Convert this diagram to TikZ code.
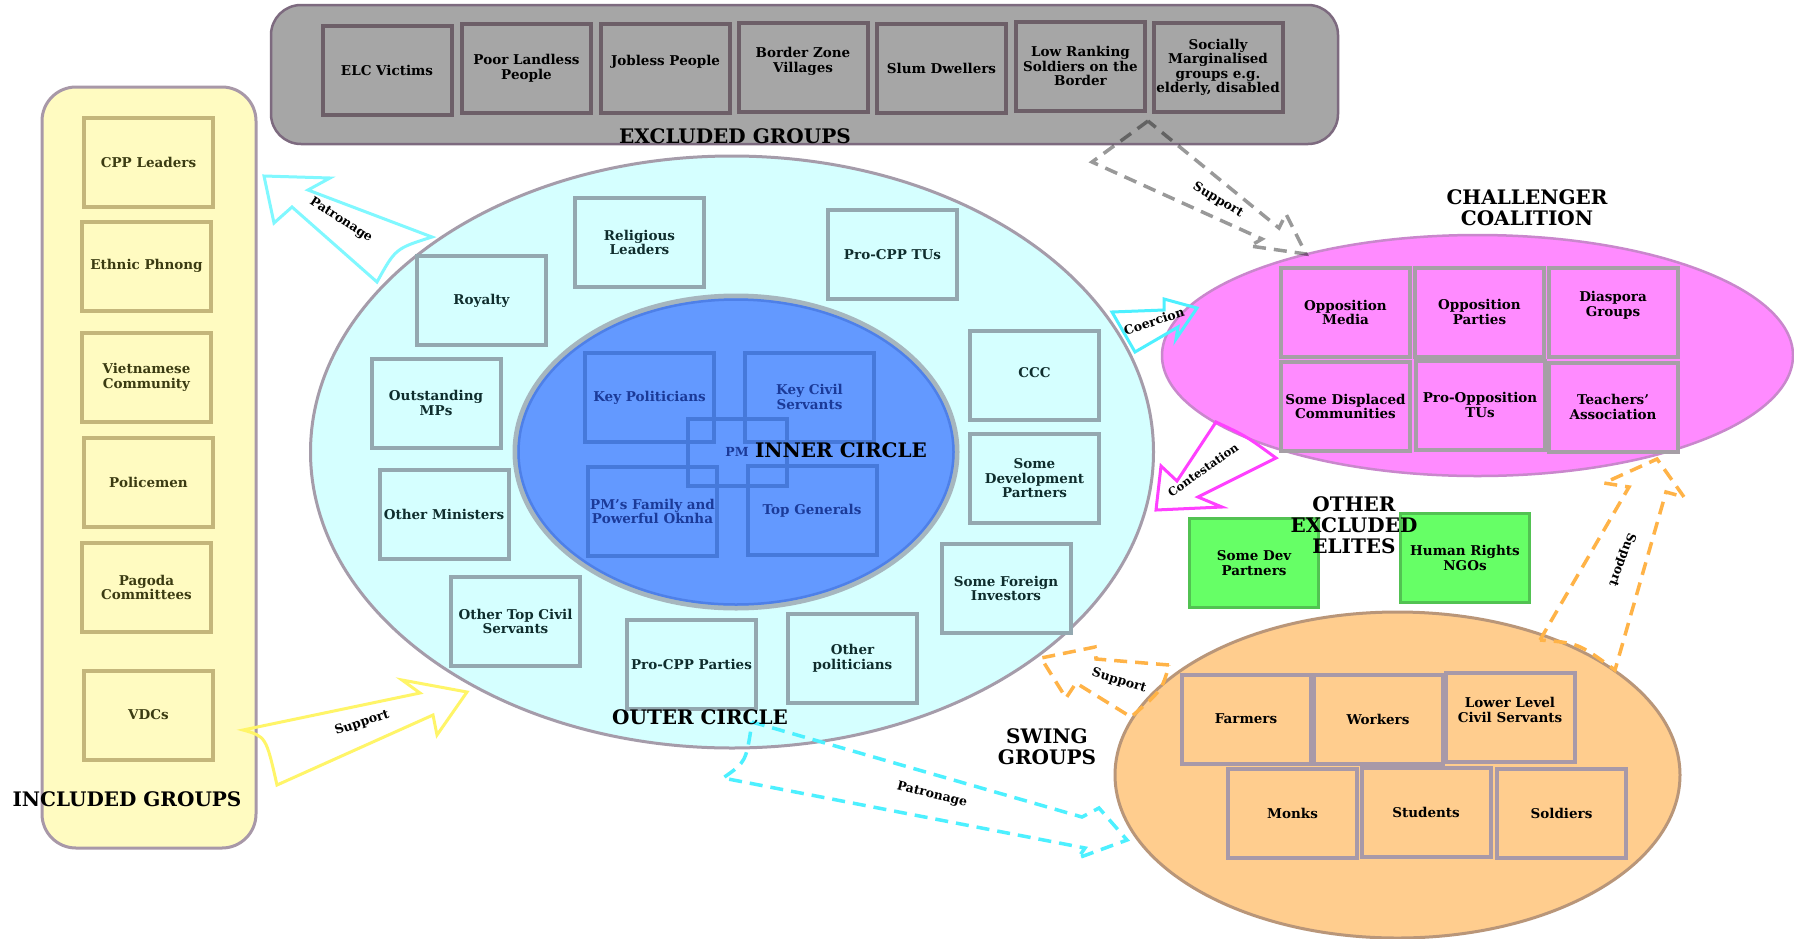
\documentclass[tikz,border=0pt]{standalone}
\usepackage{fontspec}
\setmainfont{DejaVu Serif}
\usetikzlibrary{shapes.geometric}

% palette
\definecolor{exFill}{HTML}{A6A6A6}
\definecolor{exLine}{HTML}{7D6A7F}
\definecolor{exBoxLine}{HTML}{6D5F68}
\definecolor{inFill}{HTML}{FFFBC1}
\definecolor{inLine}{HTML}{A898A8}
\definecolor{inBoxLine}{HTML}{C4B67B}
\definecolor{inText}{HTML}{3B3B12}
\definecolor{ocFill}{HTML}{D5FFFF}
\definecolor{ocLine}{HTML}{A59CAA}
\definecolor{ocBoxLine}{HTML}{94A8B0}
\definecolor{ocText}{HTML}{0F2D2D}
\definecolor{icFill}{HTML}{6399FF}
\definecolor{icRing}{HTML}{4E80E8}
\definecolor{icGray}{HTML}{A6B6BE}
\definecolor{icBoxLine}{HTML}{4679DA}
\definecolor{icText}{HTML}{1B3A98}
\definecolor{chFill}{HTML}{FF8BFF}
\definecolor{chLine}{HTML}{C987CC}
\definecolor{chBoxLine}{HTML}{A69FA6}
\definecolor{elFill}{HTML}{66FF66}
\definecolor{elLine}{HTML}{52C252}
\definecolor{swFill}{HTML}{FFCD8E}
\definecolor{swLine}{HTML}{B99679}
\definecolor{swBoxLine}{HTML}{A899A8}
\definecolor{arCyanLight}{HTML}{80F8FF}
\definecolor{arCyan}{HTML}{4DF0FF}
\definecolor{arYellow}{HTML}{FFF568}
\definecolor{arMagenta}{HTML}{FF40FF}
\definecolor{arOrange}{HTML}{FFB347}

\newcommand\bxfont{\fontsize{13.5}{14.5}\selectfont\bfseries}
\newcommand\ttlfont{\fontsize{20}{21}\selectfont\bfseries}
\newcommand\arfont{\fontsize{12.5}{13}\selectfont\bfseries}

\begin{document}
\begin{tikzpicture}[x=1pt,y=-1pt,
  grpbox/.style={rectangle, line width=4pt, inner sep=0pt, minimum width=129pt,
    minimum height=89pt, align=center, font=\bxfont},
  exbox/.style={grpbox, draw=exBoxLine, fill=exFill, text=black},
  inbox/.style={grpbox, draw=inBoxLine, fill=inFill, text=inText},
  ocbox/.style={grpbox, draw=ocBoxLine, fill=ocFill, text=ocText},
  icbox/.style={grpbox, draw=icBoxLine, text=icText},
  chbox/.style={grpbox, draw=chBoxLine, fill=chFill, text=black},
  elbox/.style={grpbox, draw=elLine, fill=elFill, text=black, line width=3.5pt},
  swbox/.style={grpbox, draw=swBoxLine, fill=swFill, text=black},
  boxtext/.style={align=center, font=\bxfont, inner sep=0pt},
  title/.style={align=center, font=\ttlfont, text=black, inner sep=0pt},
  arlbl/.style={font=\arfont, text=black, inner sep=0pt},
  blockarrow/.style={line width=3pt, line join=miter},
  dasharrow/.style={line width=3.5pt, dash pattern=on 13pt off 8pt, line join=miter},
]
\useasboundingbox (0,0) rectangle (1794,938);
\fill[white] (0,0) rectangle (1794,938);

% ---------- containers ----------
\node[rectangle, draw=exLine, fill=exFill, line width=2.5pt, rounded corners=30pt,
  minimum width=1067pt, minimum height=139pt, inner sep=0pt] (excluded) at (804.5,74.5) {};
\node[rectangle, draw=inLine, fill=inFill, line width=3pt, rounded corners=34pt,
  minimum width=214pt, minimum height=761pt, inner sep=0pt] (included) at (149,467.5) {};
\node[ellipse, draw=ocLine, fill=ocFill, line width=3pt, inner sep=0pt,
  minimum width=843pt, minimum height=592pt] (outer) at (732,452) {};
\node[ellipse, draw=icGray, fill=icFill, line width=5pt, inner sep=0pt,
  minimum width=442pt, minimum height=312pt] (innerrim) at (736,452) {};
\node[ellipse, draw=icRing, line width=2.5pt, inner sep=0pt,
  minimum width=435pt, minimum height=305pt] (inner) at (736,452) {};
\node[ellipse, draw=chLine, fill=chFill, line width=2.5pt, inner sep=0pt,
  minimum width=631pt, minimum height=241pt] (challenger) at (1477.5,355.5) {};
\node[ellipse, draw=swLine, fill=swFill, line width=3pt, inner sep=0pt,
  minimum width=565pt, minimum height=326pt] (swing) at (1397.5,775) {};

% ---------- excluded groups ----------
\node[exbox] (elc) at (387,70) {ELC Victims};
\node[exbox] (landless) at (526.5,68.5) {Poor Landless\\People};
\node[exbox] (jobless) at (665.5,68.5) {};
\node[boxtext] (jobless-t) at (665.5,62) {Jobless People};
\node[exbox] (border) at (803,67.5) {};
\node[boxtext] (border-t) at (803,61.5) {Border Zone\\Villages};
\node[exbox] (slum) at (941.5,68) {Slum Dwellers};
\node[exbox] (lowrank) at (1080.5,66) {Low Ranking\\Soldiers on the\\Border};
\node[exbox] (margin) at (1218,67.5) {Socially\\Marginalised\\groups e.g.\\elderly, disabled};

% ---------- included groups ----------
\node[inbox] (cpp) at (148.5,162) {CPP Leaders};
\node[inbox] (phnong) at (146.5,266) {Ethnic Phnong};
\node[inbox] (viet) at (146.5,377.5) {Vietnamese\\Community};
\node[inbox] (police) at (148.5,482.5) {Policemen};
\node[inbox] (pagoda) at (146.5,587.5) {Pagoda\\Committees};
\node[inbox] (vdc) at (148.5,715) {VDCs};

% ---------- outer circle ----------
\node[ocbox] (religious) at (639.5,242.5) {Religious\\Leaders};
\node[ocbox] (royalty) at (481.5,300.5) {Royalty};
\node[ocbox] (mps) at (436,403) {Outstanding\\MPs};
\node[ocbox] (ministers) at (444,514) {Other Ministers};
\node[ocbox] (topcs) at (515.5,621.5) {Other Top Civil\\Servants};
\node[ocbox] (parties) at (691.5,664) {Pro-CPP Parties};
\node[ocbox] (otherpol) at (852.5,658.5) {Other\\politicians};
\node[ocbox] (tus) at (892.5,254.5) {Pro-CPP TUs};
\node[ocbox] (ccc) at (1034.5,375.5) {};
\node[boxtext, text=ocText] (ccc-t) at (1034.5,372.5) {CCC};
\node[ocbox] (devpart) at (1034.5,478.5) {Some\\Development\\Partners};
\node[ocbox] (foreign) at (1006,588.5) {Some Foreign\\Investors};

% ---------- inner circle ----------
\node[icbox] (keypol) at (649.5,397.5) {Key Politicians};
\node[icbox] (keycs) at (809.5,397) {Key Civil\\Servants};
\node[icbox] (family) at (652.5,511.5) {PM's Family and\\Powerful Oknha};
\node[icbox] (generals) at (812,510.5) {Top Generals};
\node[icbox, minimum width=99pt, minimum height=67pt] (pm) at (737.5,452.5) {};
\node[boxtext, text=icText, font=\fontsize{12.5}{13}\selectfont\bfseries] (pm-t) at (737,452) {PM};

% ---------- challenger coalition ----------
\node[chbox] (media) at (1345.5,312.5) {Opposition\\Media};
\node[chbox] (opparties) at (1479.5,312) {Opposition\\Parties};
\node[chbox] (diaspora) at (1613,312.5) {};
\node[boxtext] (diaspora-t) at (1613,305.5) {Diaspora\\Groups};
\node[chbox] (displaced) at (1345.5,406.5) {Some Displaced\\Communities};
\node[chbox] (opptus) at (1480,405) {Pro-Opposition\\TUs};
\node[chbox] (teachers) at (1613,407) {Teachers'\\Association};

% ---------- other excluded elites ----------
\node[elbox] (devp) at (1254,563) {Some Dev\\Partners};
\node[elbox] (hrngo) at (1465,558) {Human Rights\\NGOs};

% ---------- swing groups ----------
\node[swbox] (farmers) at (1246,719) {Farmers};
\node[swbox] (workers) at (1378,719) {Workers};
\node[swbox] (lowcs) at (1510,717) {};
\node[boxtext] (lowcs-t) at (1510,710) {Lower Level\\Civil Servants};
\node[swbox] (monks) at (1292.5,813) {Monks};
\node[swbox] (students) at (1426,812.5) {Students};
\node[swbox] (soldiers) at (1561.5,813) {Soldiers};

% ---------- relations ----------
% patronage: outer circle -> included groups
\draw[blockarrow, arCyanLight] (264,176) -- (330,178) -- (308,190) -- (432,237)
  .. controls (395.5,248.5) .. (377,282) -- (292,207) -- (274,223) -- cycle;
% support: included groups -> outer circle
\draw[blockarrow, arYellow] (243,730) -- (420,693) -- (402,680) -- (467,692)
  -- (437,735) -- (433,715) -- (277,785) .. controls (266,736.5) .. (243,730) -- cycle;
% coercion: outer circle -> challenger coalition
\draw[blockarrow, arCyan] (1112,312) -- (1164,310) -- (1164,299) -- (1197,308)
  -- (1176,339) -- (1178,327) -- (1135,352) -- cycle;
% contestation: challenger coalition -> outer circle
\draw[blockarrow, arMagenta] (1216,422) -- (1177,481) -- (1161,466) -- (1156,510)
  -- (1222,507) -- (1198,497) -- (1276,458) .. controls (1246,436) .. (1216,422) -- cycle;
% support: excluded groups -> challenger coalition
\draw[dasharrow, black, draw opacity=0.4] (1148,121) -- (1092,162) -- (1262,239)
  -- (1250,246) -- (1306,254) -- (1286,214) -- (1279,228) -- cycle;
% support: swing groups -> outer circle
\draw[dasharrow, arOrange] (1169,665) -- (1096,659) -- (1095,647) -- (1041,658)
  -- (1066,698) -- (1076,683) -- (1131,717) .. controls (1162,690) .. (1169,665) -- cycle;
% support: swing groups -> challenger coalition
\draw[dasharrow, arOrange] (1540,640) -- (1629,487) -- (1604,483) -- (1657,459)
  -- (1684,497) -- (1666,492) -- (1615,670) .. controls (1578,643) .. (1540,640) -- cycle;
% patronage: outer circle -> swing groups
\draw[dasharrow, arCyan] (752,722) -- (1082,817) -- (1099,808) -- (1127,840)
  -- (1078,858) -- (1085,848) -- (723,778) .. controls (746,762) .. (752,722) -- cycle;

\node[arlbl, rotate=-33] (lbl-patron1) at (341,220) {Patronage};
\node[arlbl, rotate=18] (lbl-support1) at (362,723) {Support};
\node[arlbl, rotate=18] (lbl-coerc) at (1154,321) {Coercion};
\node[arlbl, rotate=35, font=\fontsize{11.5}{12}\selectfont\bfseries] (lbl-contest) at (1203,470) {Contestation};
\node[arlbl, rotate=-31] (lbl-support2) at (1218,200) {Support};
\node[arlbl, rotate=-17] (lbl-support3) at (1119,681) {Support};
\node[arlbl, rotate=-110] (lbl-support4) at (1622,560) {Support};
\node[arlbl, rotate=-14] (lbl-patron2) at (932,795) {Patronage};

% ---------- titles ----------
\node[title] (t-excluded) at (735,136) {EXCLUDED GROUPS};
\node[title] (t-included) at (127,799) {INCLUDED GROUPS};
\node[title] (t-inner) at (841,450) {INNER CIRCLE};
\node[title] (t-outer) at (700,717) {OUTER CIRCLE};
\node[title] (t-challenger) at (1527,208) {CHALLENGER\\COALITION};
\node[title] (t-elites) at (1354,525) {OTHER\\EXCLUDED\\ELITES};
\node[title] (t-swing) at (1047,747) {SWING\\GROUPS};
\end{tikzpicture}
\end{document}
